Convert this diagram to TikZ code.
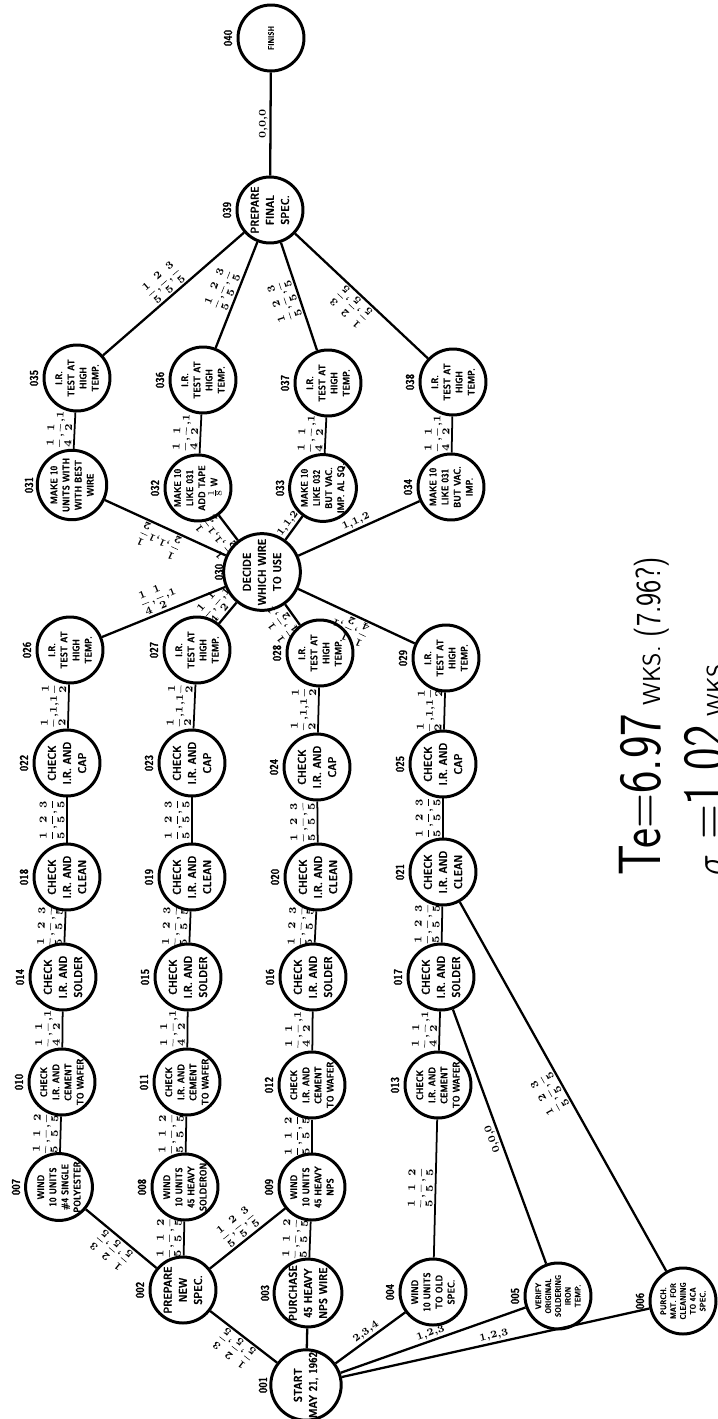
\documentclass[tikz,border=0pt]{standalone}
\usepackage{amsmath}
\usepackage{graphicx}
\usepackage{fontspec}
\newfontfamily\condfont{lmsansdemicond10-regular.otf}[FakeBold=1.2]
\newcommand{\fr}[2]{\ensuremath{\dfrac{#1}{#2}}}
\tikzset{
  ev/.style={circle, draw, line width=1.7pt, minimum size=1.32cm, inner sep=0pt,
    align=center, rotate=90, font=\fontsize{6.5}{8.6}\selectfont\condfont},
  evsmall/.style={ev, font=\fontsize{5.5}{6.9}\selectfont\condfont},
  evtiny/.style={ev, font=\fontsize{4.6}{5.6}\selectfont\condfont},
  evnum/.style={rotate=90, inner sep=0pt, font=\fontsize{6.5}{7}\selectfont\condfont},
  edge/.style={line width=1.3pt},
  short/.style={line width=1pt},
  lab/.style={sloped, allow upside down, above=0.5pt, inner sep=0.5pt,
    font=\fontsize{5.8}{6}\selectfont\bfseries\boldmath},
  bigtxt/.style={rotate=90, inner sep=0pt, font=\sffamily},
}
% Ereignis: [Stil]{Nummer}{x}{y}{Text}
\newcommand{\ev}[5][ev]{%
  \node[#1] (n#2) at (#3,#4) {#5};
  \node[evnum] (l#2) at (#3-43,#4) {#2};}

\begin{document}
\begin{tikzpicture}[x=0.02cm, y=-0.02cm]
\useasboundingbox (0,0) rectangle (717,1419);

% Ende:
\ev[evtiny]{040}{271}{38}{FINISH}
\ev{039}{270}{210}{PREPARE\\FINAL\\SPEC.}
% Tests nach Drahtwahl:
\ev[evsmall]{035}{77}{378}{I.R.\\TEST AT\\HIGH\\TEMP.}
\ev[evsmall]{036}{203}{380}{I.R.\\TEST AT\\HIGH\\TEMP.}
\ev[evsmall]{037}{328}{383}{I.R.\\TEST AT\\HIGH\\TEMP.}
\ev[evsmall]{038}{453}{382}{I.R.\\TEST AT\\HIGH\\TEMP.}
\ev[evsmall]{031}{72}{485}{MAKE 10\\UNITS WITH\\WITH BEST\\WIRE}
\ev[evsmall]{032}{198}{488}{MAKE 10\\LIKE 031\\ADD TAPE\\$\frac18$\,W}
\ev[evsmall]{033}{323}{488}{MAKE 10\\LIKE 032\\BUT VAC.\\IMP. AL SQ.}
\ev[evsmall]{034}{451}{487}{MAKE 10\\LIKE 031\\BUT VAC.\\IMP.}
\ev{030}{262}{572}{DECIDE\\WHICH WIRE\\TO USE}
% vier Ketten:
\ev[evsmall]{026}{70}{650}{I.R.\\TEST AT\\HIGH\\TEMP.}
\ev[evsmall]{027}{197}{650}{I.R.\\TEST AT\\HIGH\\TEMP.}
\ev[evsmall]{028}{320}{653}{I.R.\\TEST AT\\HIGH\\TEMP.}
\ev[evsmall]{029}{446}{658}{I.R.\\TEST AT\\HIGH\\TEMP.}
\ev{022}{67}{763}{CHECK\\I.R. AND\\CAP}
\ev{023}{192}{763}{CHECK\\I.R. AND\\CAP}
\ev{024}{317}{767}{CHECK\\I.R. AND\\CAP}
\ev{025}{443}{764}{CHECK\\I.R. AND\\CAP}
\ev{018}{67}{877}{CHECK\\I.R. AND\\CLEAN}
\ev{019}{192}{877}{CHECK\\I.R. AND\\CLEAN}
\ev{020}{318}{877}{CHECK\\I.R. AND\\CLEAN}
\ev{021}{443}{872}{CHECK\\I.R. AND\\CLEAN}
\ev{014}{63}{977}{CHECK\\I.R. AND\\SOLDER}
\ev{015}{188}{977}{CHECK\\I.R. AND\\SOLDER}
\ev{016}{313}{977}{CHECK\\I.R. AND\\SOLDER}
\ev{017}{441}{977}{CHECK\\I.R. AND\\SOLDER}
\ev[evsmall]{010}{62}{1082}{CHECK\\I.R. AND\\CEMENT\\TO WAFER}
\ev[evsmall]{011}{187}{1082}{CHECK\\I.R. AND\\CEMENT\\TO WAFER}
\ev[evsmall]{012}{312}{1085}{CHECK\\I.R. AND\\CEMENT\\TO WAFER}
\ev[evsmall]{013}{438}{1085}{CHECK\\I.R. AND\\CEMENT\\TO WAFER}
\ev[evsmall]{007}{59}{1187}{WIND\\10 UNITS\\\#4 SINGLE\\POLYESTER}
\ev[evsmall]{008}{185}{1187}{WIND\\10 UNITS\\45 HEAVY\\SOLDERON}
\ev[evsmall]{009}{312}{1187}{WIND\\10 UNITS\\45 HEAVY\\NPS}
% Anfang:
\ev{002}{183}{1290}{PREPARE\\NEW\\SPEC.}
\ev{003}{308}{1293}{PURCHASE\\45 HEAVY\\NPS WIRE}
\ev[evsmall]{004}{433}{1292}{WIND\\10 UNITS\\TO OLD\\SPEC.}
\ev[evtiny]{005}{558}{1296}{VERIFY\\ORIGINAL\\SOLDERING\\IRON\\TEMP.}
\ev[evtiny]{006}{683}{1301}{PURCH.\\MAT. FOR\\CLEANING\\TO 4CA\\SPEC.}
\ev{001}{306}{1385}{START\\MAY 21, 1962}

% Pfeile vom Start:
\draw[edge] (n001) -- node[lab] {\fr15,\fr25,\fr35} (n002);
\draw[edge] (n001) -- (n003);
\draw[edge] (n001) -- node[lab] {2,3,4} (n004);
\draw[edge] (n001) -- node[lab] {1,2,3} (n005);
\draw[edge] (n001) -- node[lab] {1,2,3} (n006);
\draw[edge] (n002) -- node[lab] {\fr15,\fr25,\fr35} (n007);
\draw[short] (n002) -- node[lab] {\fr15,\fr15,\fr25} (n008);
\draw[edge] (n002) -- node[lab] {\fr15,\fr25,\fr35} (n009);
\draw[short] (n003) -- node[lab] {\fr15,\fr15,\fr25} (n009);
% Wickeln -> Zementieren:
\draw[short] (n007) -- node[lab] {\fr15,\fr15,\fr25} (n010);
\draw[short] (n008) -- node[lab] {\fr15,\fr15,\fr25} (n011);
\draw[short] (n009) -- node[lab] {\fr15,\fr15,\fr25} (n012);
\draw[short] (n004) -- node[lab] {\fr15,\fr15,\fr25} (n013);
% Zementieren -> Loeten:
\draw[short] (n010) -- node[lab] {\fr14,\fr12,1} (n014);
\draw[short] (n011) -- node[lab] {\fr14,\fr12,1} (n015);
\draw[short] (n012) -- node[lab] {\fr14,\fr12,1} (n016);
\draw[short] (n013) -- node[lab] {\fr14,\fr12,1} (n017);
% Loeten -> Reinigen:
\draw[short] (n014) -- node[lab] {\fr15,\fr25,\fr35} (n018);
\draw[short] (n015) -- node[lab] {\fr15,\fr25,\fr35} (n019);
\draw[short] (n016) -- node[lab] {\fr15,\fr25,\fr35} (n020);
\draw[short] (n017) -- node[lab] {\fr15,\fr25,\fr35} (n021);
% Reinigen -> Kappe:
\draw[short] (n018) -- node[lab] {\fr15,\fr25,\fr35} (n022);
\draw[short] (n019) -- node[lab] {\fr15,\fr25,\fr35} (n023);
\draw[short] (n020) -- node[lab] {\fr15,\fr25,\fr35} (n024);
\draw[short] (n021) -- node[lab] {\fr15,\fr25,\fr35} (n025);
% Kappe -> Test:
\draw[short] (n022) -- node[lab] {\fr12,1,1\fr12} (n026);
\draw[short] (n023) -- node[lab] {\fr12,1,1\fr12} (n027);
\draw[short] (n024) -- node[lab] {\fr12,1,1\fr12} (n028);
\draw[short] (n025) -- node[lab] {\fr12,1,1\fr12} (n029);
\draw[edge] (n005) -- node[lab] {0,0,0} (n017);
\draw[edge] (n006) -- node[lab] {\fr15,\fr25,\fr35} (n021);
% Test -> Entscheidung:
\draw[edge] (n026) -- node[lab] {\fr14,\fr12,1} (n030);
\draw[edge] (n027) -- node[lab] {\fr14,\fr12,1} (n030);
\draw[edge] (n028) -- node[lab] {\fr14,\fr12,1} (n030);
\draw[edge] (n029) -- node[lab] {\fr14,\fr12,1} (n030);
% Entscheidung -> Muster:
\draw[edge] (n030) -- node[lab] {\fr12,1,1\fr12} (n031);
\draw[edge] (n030) -- node[lab] {\fr12,1,1\fr12} (n032);
\draw[edge] (n030) -- node[lab] {1,1,2} (n033);
\draw[edge] (n030) -- node[lab] {1,1,2} (n034);
\draw[short] (n031) -- node[lab] {\fr14,\fr12,1} (n035);
\draw[short] (n032) -- node[lab] {\fr14,\fr12,1} (n036);
\draw[short] (n033) -- node[lab] {\fr14,\fr12,1} (n037);
\draw[short] (n034) -- node[lab] {\fr14,\fr12,1} (n038);
% Tests -> Endspezifikation:
\draw[edge] (n035) -- node[lab] {\fr15,\fr25,\fr35} (n039);
\draw[edge] (n036) -- node[lab] {\fr15,\fr25,\fr35} (n039);
\draw[edge] (n037) -- node[lab] {\fr15,\fr25,\fr35} (n039);
\draw[edge] (n038) -- node[lab] {\fr15,\fr25,\fr35} (n039);
\draw[edge] (n039) -- node[lab] {0,0,0} (n040);

% Erwartungswert und Streuung:
\begin{scope}
  \clip (0,0) rectangle (717,1419);
  \node[bigtxt, anchor=base west] (te) at (660,876)
    {\scalebox{0.8}[1]{\fontsize{34}{34}\selectfont Te=6.97}\,
     {\fontsize{14}{14}\selectfont WKS.}\,
     \scalebox{0.8}[1]{\fontsize{20}{20}\selectfont (7.96?)}};
  \node[bigtxt, anchor=base west] (sigma) at (724,876)
    {\scalebox{0.8}[1]{\fontsize{34}{34}\selectfont $\sigma$ =1.02}\,
     {\fontsize{14}{14}\selectfont WKS}};
\end{scope}
\end{tikzpicture}
\end{document}
